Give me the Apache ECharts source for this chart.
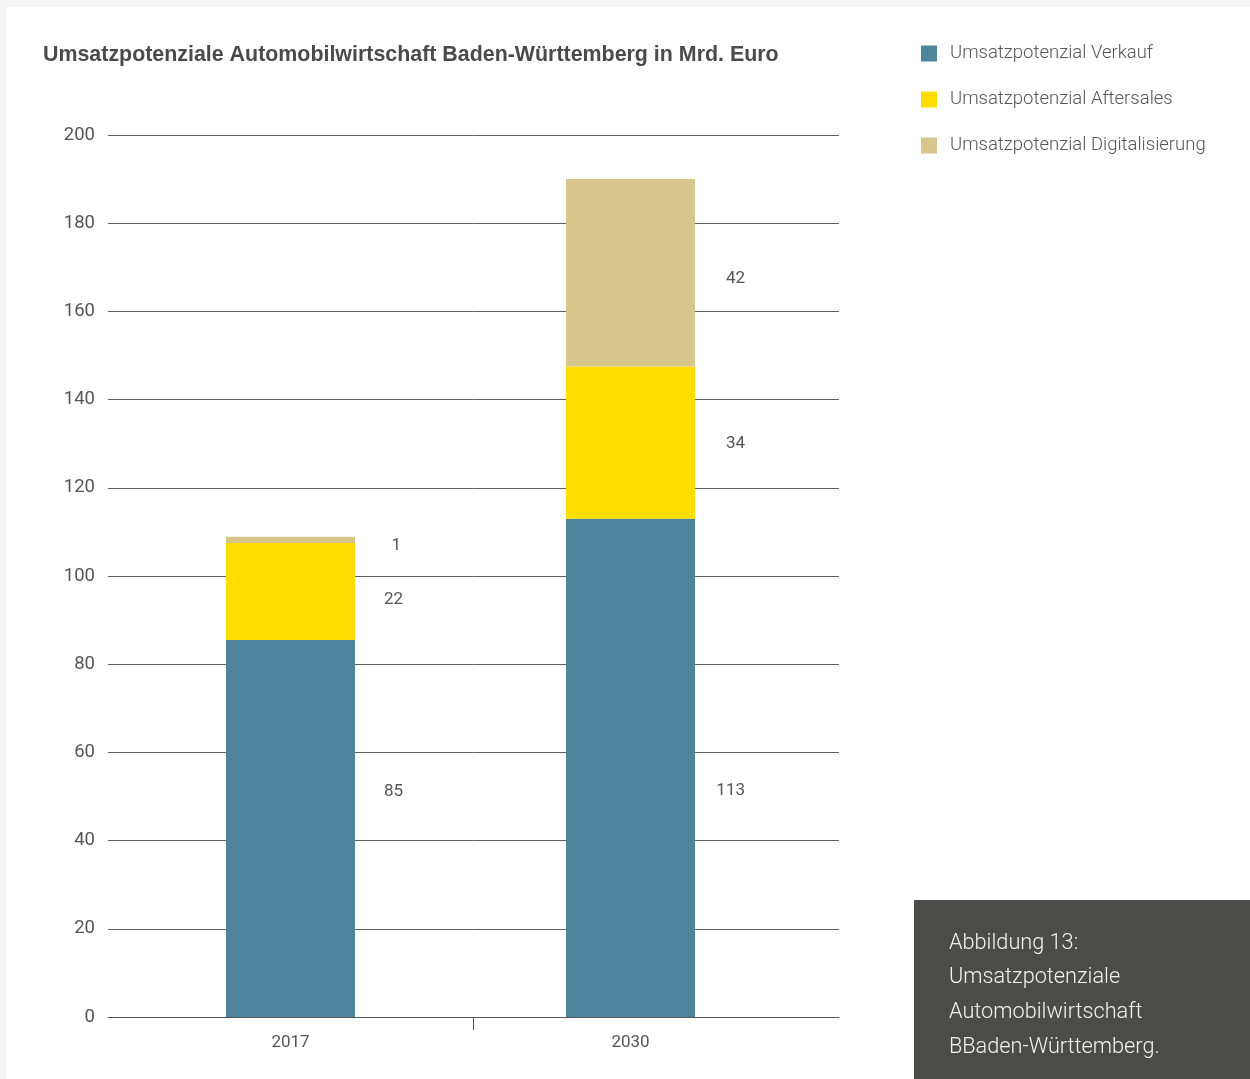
<!DOCTYPE html>
<html>
<head>
<meta charset="utf-8">
<script src="https://cdn.jsdelivr.net/npm/echarts@6/dist/echarts.min.js"></script>
<style>
  html, body { margin: 0; padding: 0; background: #f4f4f4; }
  #chart { width: 1250px; height: 1079px; }
</style>
</head>
<body>
<div id="chart"></div>
<script>
// Jahre
const years = ["2017", "2030"];
// Werte in Mrd. Euro
const verkauf = [85.5, 113];
const aftersales = [22, 34.5];
const digital = [1.4, 42.5];
// angezeigte Beschriftungen
const verkaufLbl = ["85", "113"];
const aftersalesLbl = ["22", "34"];
const digitalLbl = ["1", "42"];

const FONT = "Roboto";
const TXT = "#555555";

//Balken-Serie bauen
const makeSeries = (name, values, labels, color, offsets) => ({
  name,
  type: "bar",
  stack: "total",
  xAxisIndex: 1,
  yAxisIndex: 1,
  barWidth: 129,
  itemStyle: { color },
  data: values.map((v, i) => ({
    value: v,
    label: {
      show: true,
      formatter: labels[i],
      position: ["100%", "50%"],
      offset: offsets[i],
      align: "right",
      verticalAlign: "middle",
      color: TXT,
      fontFamily: FONT,
      fontSize: 17,
    },
  })),
});

const chart = echarts.init(document.getElementById("chart"));
chart.setOption({
  backgroundColor: "#f4f4f4",
  animation: false,
  graphic: [
    { type: "rect", z: -10, shape: { x: 7, y: 7, width: 1243, height: 1072 }, style: { fill: "#ffffff" } },
    { type: "rect", shape: { x: 914, y: 900, width: 336, height: 179 }, style: { fill: "#4b4b49" } },
    {
      type: "text",
      x: 949,
      y: 926,
      style: {
        text: "Abbildung 13:\nUmsatzpotenziale\nAutomobilwirtschaft\nBBaden-Württemberg.",
        fill: "#f2f2f2",
        fontFamily: FONT,
        fontWeight: 300,
        fontSize: 21.7,
        lineHeight: 34.7,
      },
    },
  ],
  title: {
    text: "Umsatzpotenziale Automobilwirtschaft Baden-Württemberg in Mrd. Euro",
    left: 43,
    top: 45,
    padding: 0,
    textStyle: { color: "#4a4a4a", fontFamily: "Liberation Sans", fontWeight: "bold", fontSize: 21.4 },
  },
  legend: {
    orient: "vertical",
    left: 921,
    top: 44,
    padding: 0,
    itemWidth: 16,
    itemHeight: 16,
    itemGap: 27,
    icon: "rect",
    textStyle: { color: TXT, fontFamily: FONT, fontWeight: 300, fontSize: 18.5, padding: [0, 0, 0, 8] },
    data: ["Umsatzpotenzial Verkauf", "Umsatzpotenzial Aftersales", "Umsatzpotenzial Digitalisierung"],
  },
  grid: [
    { left: 108, right: 411, top: 135, bottom: 62 },
    // Balkenraster: Jahre unter den Balken
    { left: 120.5, right: 449.5, top: 135, bottom: 62 },
  ],
  xAxis: [
    {
      gridIndex: 0,
      type: "value",
      min: 0,
      max: 2,
      splitLine: { show: false },
      axisLine: { show: true, lineStyle: { color: "#555555", width: 1 } },
      axisTick: { show: true, customValues: [1], length: 13, lineStyle: { color: "#555555" } },
      axisLabel: { show: false },
    },
    {
      gridIndex: 1,
      type: "category",
      data: years,
      axisLine: { show: false },
      axisTick: { show: false },
      axisLabel: { margin: 17, color: TXT, fontFamily: FONT, fontSize: 17 },
    },
  ],
  yAxis: [
    {
      gridIndex: 0,
      type: "value",
      min: 0,
      max: 200,
      interval: 20,
      axisLine: { show: false },
      axisTick: { show: false },
      splitLine: { lineStyle: { color: "#606060", width: 1 } },
      axisLabel: { margin: 13, lineHeight: 26, verticalAlign: "middle", padding: [5, 0, 0, 0], color: TXT, fontFamily: FONT, fontSize: 18.5 },
    },
    {
      gridIndex: 1,
      type: "value",
      min: 0,
      max: 200,
      show: false,
      splitLine: { show: false },
    },
  ],
  series: [
    makeSeries("Umsatzpotenzial Verkauf", verkauf, verkaufLbl, "#4e859c", [[48, -37], [50, 23]]),
    makeSeries("Umsatzpotenzial Aftersales", aftersales, aftersalesLbl, "#ffdd00", [[48, 8], [50, 1]]),
    makeSeries("Umsatzpotenzial Digitalisierung", digital, digitalLbl, "#d8c68c", [[46, 6], [50, 6]]),
  ],
});
</script>
</body>
</html>
